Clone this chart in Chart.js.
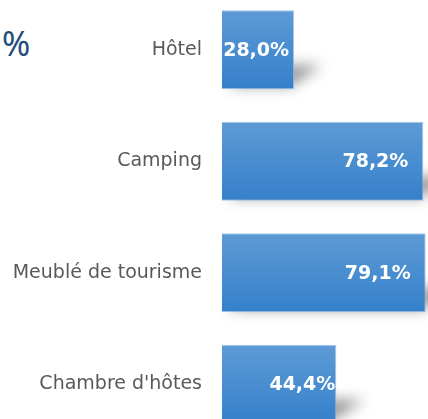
<!DOCTYPE html>
<html>
<head>
<meta charset="utf-8">
<script src="https://cdn.jsdelivr.net/npm/chart.js@4/dist/chart.umd.min.js"></script>
<style>
  html, body { margin: 0; padding: 0; background: #fff; }
  #frame { position: relative; width: 428px; height: 419px; overflow: hidden; }
  #title { position: absolute; left: 2px; top: 20px; font: 34px "Noto Sans", sans-serif; color: #1f4e79; }
  #chart { position: absolute; left: 0; top: -6px; }
</style>
</head>
<body>
<div id="frame">
  <div id="title">%</div>
  <canvas id="chart" width="428" height="446"></canvas>
</div>
<script>
const categories = ['Hôtel', 'Camping', 'Meublé de tourisme', "Chambre d'hôtes"];
const shares = [28.0, 78.2, 79.1, 44.4];
const labelInset = [5, 15, 15, 1];

function barGradient(c) {
  const chart = c.chart;
  if (!chart.chartArea) return '#4a8fd2';
  const y = chart.scales.y;
  const half = (y.height / categories.length) * 0.71 / 2;
  const cy = y.getPixelForValue(c.dataIndex);
  const g = chart.ctx.createLinearGradient(0, cy - half, 0, cy + half);
  g.addColorStop(0, '#5d9bd6');
  g.addColorStop(1, '#3580ca');
  return g;
}

// soft perspective shadow at the lower right of each bar
const barShadow = {
  id: 'barShadow',
  beforeDatasetsDraw(chart) {
    const ctx = chart.ctx;
    chart.getDatasetMeta(0).data.forEach(bar => {
      const bottom = bar.y + bar.height / 2;
      ctx.save();
      ctx.filter = 'blur(7px)';
      ctx.fillStyle = 'rgba(0,0,0,0.42)';
      ctx.beginPath();
      ctx.moveTo(bar.base + 6, bottom - 3);
      ctx.lineTo(bar.x - 4, bottom - 3);
      ctx.lineTo(bar.x + 28, bottom - 24);
      ctx.lineTo(bar.base + 30, bottom - 24);
      ctx.closePath();
      ctx.fill();
      ctx.restore();
    });
  }
};

const valueLabels = {
  id: 'valueLabels',
  afterDatasetsDraw(chart) {
    const ctx = chart.ctx;
    ctx.save();
    ctx.font = 'bold 19px "DejaVu Sans", sans-serif';
    ctx.fillStyle = '#ffffff';
    ctx.textAlign = 'right';
    ctx.textBaseline = 'middle';
    chart.getDatasetMeta(0).data.forEach((bar, i) => {
      const txt = shares[i].toFixed(1).replace('.', ',') + '%';
      ctx.fillText(txt, bar.x - labelInset[i], bar.y + 1);
    });
    ctx.restore();
  }
};

new Chart(document.getElementById('chart').getContext('2d'), {
  type: 'bar',
  data: {
    labels: categories,
    datasets: [{
      data: shares,
      backgroundColor: barGradient,
      borderColor: 'rgba(140,185,230,0.8)',
      borderWidth: 1,
      categoryPercentage: 1,
      barPercentage: 0.71
    }]
  },
  options: {
    indexAxis: 'y',
    responsive: false,
    animation: false,
    layout: { padding: 0, autoPadding: false },
    scales: {
      x: {
        display: false,
        min: 0,
        max: 80
      },
      y: {
        grid: { display: false, drawTicks: false },
        border: { display: false },
        ticks: {
          padding: 20,
          color: '#595959',
          font: { family: 'DejaVu Sans', size: 19 }
        },
        afterFit(scale) {
          scale.width = 222;
          scale.paddingTop = 0;
          scale.paddingBottom = 0;
        }
      }
    },
    plugins: {
      legend: { display: false },
      tooltip: { enabled: false }
    }
  },
  plugins: [barShadow, valueLabels]
});
</script>
</body>
</html>
